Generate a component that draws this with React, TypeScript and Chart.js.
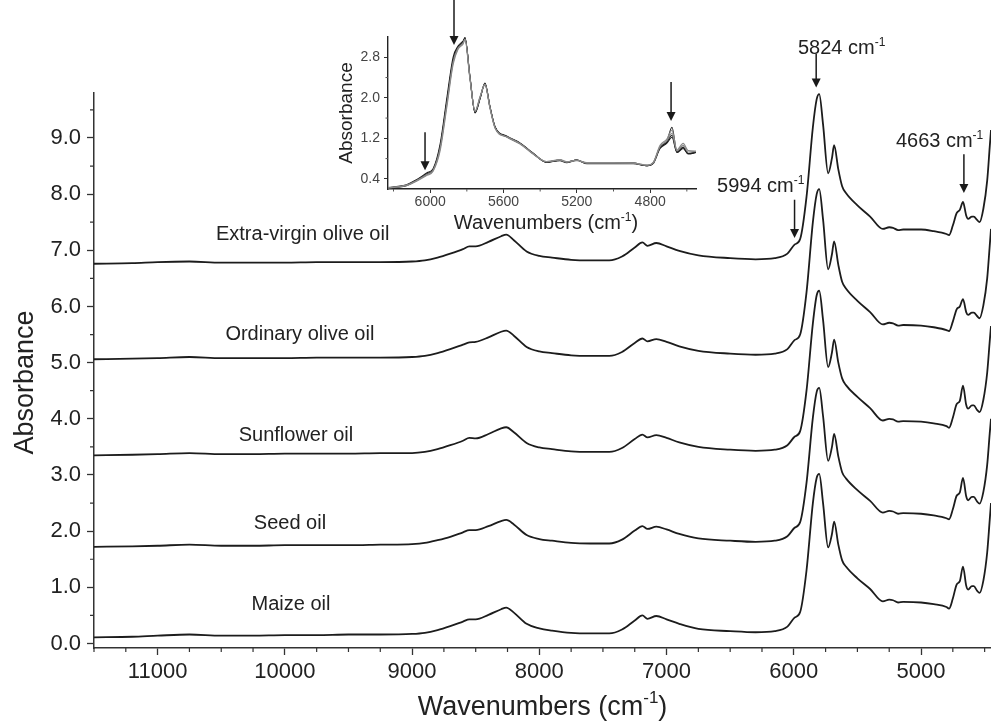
import React, { useEffect, useRef } from "react";
import { Chart, registerables } from "chart.js";

Chart.register(...registerables);

const FONT = "'Liberation Sans', Arial, Helvetica, sans-serif";

// ---------------- main spectra data ----------------
const WAVENUMBERS = [
  11500, 11200, 11000, 10750, 10500, 10250, 10000, 9750, 9500, 9250, 9000, 8900, 8800, 8700, 8600, 8550, 8500,
  8400, 8300, 8260, 8200, 8100, 8000, 7900, 7750, 7600, 7450, 7350, 7250, 7190, 7150, 7080, 7000, 6900, 6750,
  6500, 6300, 6150, 6050, 5994, 5950, 5900, 5850, 5820, 5800, 5770, 5730, 5700, 5683, 5650, 5620, 5590, 5500,
  5400, 5300, 5250, 5220, 5180, 5140, 5000, 4900, 4800, 4780, 4750, 4720, 4695, 4670, 4645, 4630, 4600, 4585,
  4560, 4540, 4510, 4480, 4460, 4450,
];

const EXTRA_VIRGIN = [
  6.76, 6.77, 6.79, 6.8, 6.78, 6.78, 6.78, 6.79, 6.79, 6.79, 6.8, 6.82, 6.87, 6.94, 7.02, 7.07, 7.07,
  7.15, 7.25, 7.28, 7.18, 6.98, 6.9, 6.87, 6.83, 6.82, 6.82, 6.89, 7.05, 7.14, 7.08, 7.13, 7.07, 6.99, 6.91,
  6.86, 6.84, 6.86, 6.94, 7.1, 7.2, 7.95, 9.19, 9.69, 9.78, 9.24, 8.37, 8.64, 8.87, 8.44, 8.14, 8.02, 7.8,
  7.6, 7.38, 7.41, 7.4, 7.36, 7.37, 7.37, 7.34, 7.29, 7.27, 7.44, 7.66, 7.72, 7.86, 7.62, 7.56, 7.6, 7.6,
  7.54, 7.5, 7.74, 8.24, 8.84, 9.14,
];

const ORDINARY = [
  5.06, 5.07, 5.08, 5.1, 5.08, 5.08, 5.08, 5.09, 5.09, 5.09, 5.1, 5.12, 5.17, 5.24, 5.32, 5.36, 5.37,
  5.45, 5.55, 5.57, 5.48, 5.28, 5.2, 5.17, 5.13, 5.12, 5.12, 5.19, 5.35, 5.43, 5.38, 5.42, 5.37, 5.29, 5.21,
  5.16, 5.14, 5.16, 5.24, 5.4, 5.5, 6.25, 7.5, 8.0, 8.09, 7.55, 6.66, 6.93, 7.16, 6.74, 6.44, 6.32, 6.1,
  5.9, 5.68, 5.71, 5.7, 5.66, 5.67, 5.66, 5.63, 5.58, 5.56, 5.73, 5.95, 6.0, 6.13, 5.9, 5.85, 5.89, 5.89,
  5.83, 5.79, 6.02, 6.5, 7.08, 7.38,
];

const SUNFLOWER = [
  3.35, 3.36, 3.37, 3.39, 3.37, 3.37, 3.38, 3.38, 3.38, 3.39, 3.39, 3.41, 3.46, 3.53, 3.61, 3.66, 3.65,
  3.73, 3.83, 3.85, 3.76, 3.57, 3.49, 3.46, 3.42, 3.41, 3.41, 3.48, 3.64, 3.72, 3.67, 3.71, 3.66, 3.58, 3.5,
  3.45, 3.43, 3.45, 3.53, 3.68, 3.78, 4.5, 5.7, 6.2, 6.28, 5.76, 4.92, 5.18, 5.41, 5.0, 4.72, 4.6, 4.39,
  4.19, 3.97, 4.0, 3.99, 3.95, 3.96, 3.95, 3.92, 3.87, 3.84, 4.02, 4.26, 4.32, 4.59, 4.25, 4.18, 4.24, 4.24,
  4.16, 4.12, 4.34, 4.82, 5.38, 5.65,
];

const SEED = [
  1.72, 1.73, 1.74, 1.76, 1.74, 1.74, 1.75, 1.75, 1.75, 1.76, 1.77, 1.79, 1.84, 1.9, 1.98, 2.02, 2.02,
  2.09, 2.18, 2.2, 2.12, 1.93, 1.86, 1.83, 1.79, 1.78, 1.78, 1.85, 2.01, 2.09, 2.04, 2.08, 2.03, 1.95, 1.87,
  1.83, 1.81, 1.83, 1.91, 2.06, 2.16, 2.86, 4.02, 4.48, 4.55, 4.05, 3.25, 3.5, 3.73, 3.33, 3.05, 2.94, 2.73,
  2.54, 2.33, 2.36, 2.35, 2.31, 2.32, 2.31, 2.28, 2.23, 2.21, 2.39, 2.63, 2.69, 2.95, 2.62, 2.55, 2.61, 2.61,
  2.53, 2.49, 2.7, 3.18, 3.74, 4.0,
];

const MAIZE = [
  0.11, 0.12, 0.14, 0.16, 0.14, 0.14, 0.15, 0.15, 0.16, 0.16, 0.17, 0.19, 0.24, 0.31, 0.39, 0.43, 0.43,
  0.51, 0.61, 0.64, 0.55, 0.35, 0.27, 0.23, 0.19, 0.18, 0.18, 0.25, 0.41, 0.5, 0.44, 0.49, 0.43, 0.35, 0.26,
  0.22, 0.2, 0.22, 0.3, 0.46, 0.56, 1.3, 2.5, 2.95, 3.02, 2.5, 1.71, 1.95, 2.17, 1.76, 1.48, 1.37, 1.16,
  0.97, 0.75, 0.78, 0.77, 0.73, 0.74, 0.73, 0.7, 0.65, 0.62, 0.8, 1.05, 1.11, 1.37, 1.03, 0.96, 1.02, 1.02,
  0.94, 0.9, 1.12, 1.62, 2.2, 2.5,
];

const SERIES_NAMES = ["Extra-virgin olive oil", "Ordinary olive oil", "Sunflower oil", "Seed oil", "Maize oil"];
const SERIES_VALUES = [EXTRA_VIRGIN, ORDINARY, SUNFLOWER, SEED, MAIZE];

const X_TICKS = [11000, 10000, 9000, 8000, 7000, 6000, 5000];
const X_MINOR = [11500, 11250, 10750, 10500, 10250, 9750, 9500, 9250, 8750, 8500, 8250, 7750, 7500, 7250, 6750, 6500, 6250, 5750, 5500, 5250, 4750, 4500];
const Y_TICKS = [0, 1, 2, 3, 4, 5, 6, 7, 8, 9];
const Y_MINOR = [0.5, 1.5, 2.5, 3.5, 4.5, 5.5, 6.5, 7.5, 8.5, 9.5];

// peak annotations (wavenumbers)
const PEAKS = [5824, 5994, 4663];

// ---------------- inset data ----------------
const INSET_WAVENUMBERS = [
  6230, 6126, 6072, 6017, 5984, 5946, 5908, 5875, 5848, 5821, 5810, 5783, 5755, 5728, 5701, 5674, 5646, 5581,
  5510, 5439, 5365, 5292, 5256, 5200, 5145, 5000, 4893, 4817, 4784, 4746, 4710, 4681, 4654, 4620, 4593, 4550,
];
const INSET_1 = [0.22, 0.28, 0.38, 0.5, 0.58, 1.03, 1.95, 2.74, 3.0, 3.1, 3.19, 2.4, 1.72, 2.0, 2.28, 1.82, 1.42, 1.23, 1.1, 0.9, 0.73, 0.77, 0.73, 0.77, 0.71, 0.71, 0.71, 0.66, 0.71, 1.03, 1.13, 1.42, 0.93, 1.03, 0.9, 0.93];
const INSET_2 = [0.22, 0.27, 0.36, 0.47, 0.55, 0.95, 1.85, 2.66, 2.96, 3.06, 3.15, 2.38, 1.74, 2.02, 2.26, 1.8, 1.4, 1.22, 1.09, 0.89, 0.74, 0.78, 0.74, 0.76, 0.72, 0.72, 0.71, 0.67, 0.72, 1.06, 1.18, 1.36, 0.97, 1.1, 0.96, 0.95];
const INSET_3 = [0.23, 0.29, 0.39, 0.52, 0.6, 1.08, 2.02, 2.8, 3.02, 3.12, 3.17, 2.42, 1.7, 1.98, 2.29, 1.83, 1.43, 1.24, 1.11, 0.91, 0.73, 0.76, 0.72, 0.77, 0.7, 0.7, 0.7, 0.66, 0.7, 1.0, 1.1, 1.22, 0.92, 1.0, 0.89, 0.92];
const INSET_4 = [0.22, 0.28, 0.37, 0.49, 0.57, 1.0, 1.9, 2.7, 2.98, 3.08, 3.16, 2.39, 1.73, 2.01, 2.27, 1.81, 1.41, 1.23, 1.1, 0.9, 0.74, 0.77, 0.73, 0.77, 0.71, 0.71, 0.71, 0.67, 0.71, 1.04, 1.15, 1.3, 0.95, 1.06, 0.93, 0.94];
const INSET_5 = [0.21, 0.27, 0.37, 0.49, 0.57, 1.01, 1.93, 2.72, 2.99, 3.09, 3.18, 2.41, 1.71, 1.99, 2.27, 1.82, 1.42, 1.23, 1.1, 0.9, 0.73, 0.77, 0.73, 0.77, 0.71, 0.71, 0.71, 0.66, 0.71, 1.02, 1.12, 1.26, 0.93, 1.02, 0.9, 0.92];
const INSET_SERIES = [INSET_2, INSET_4, INSET_1, INSET_3, INSET_5];
const INSET_SERIES_GREY = [true, true, false, false, false];

const INSET_X_TICKS = [6000, 5600, 5200, 4800];
const INSET_X_MINOR = [6200, 5800, 5400, 5000, 4600];
const INSET_Y_TICKS = [0.4, 1.2, 2.0, 2.8];
const INSET_Y_MINOR = [0.8, 1.6, 2.4];

// ---------------- layout / styling (not data) ----------------
const SERIES_LABEL_AT = [
  { x: 9860, y: 7.31 },
  { x: 9882, y: 5.53 },
  { x: 9913, y: 3.73 },
  { x: 9960, y: 2.16 },
  { x: 9952, y: 0.72 },
];
const MAIN_ARROWS = [
  { x: PEAKS[0], from: 10.5, to: 9.9 },
  { x: PEAKS[1], from: 7.9, to: 7.22 },
  { x: PEAKS[2], from: 8.71, to: 8.02 },
];
const MAIN_PEAK_LABELS = [
  { x: 5624, y: 10.62, text: `${PEAKS[0]} cm` },
  { x: 6260, y: 8.16, text: `${PEAKS[1]} cm` },
  { x: 4854, y: 8.96, text: `${PEAKS[2]} cm` },
];
const INSET_ARROWS = [
  { x: 6028, from: 1.32, to: 0.57 },
  { x: 5870, from: 3.95, to: 3.04 },
  { x: 4686, from: 2.31, to: 1.54 },
];

type Part = { t: string; sup?: boolean };

function drawParts(ctx: CanvasRenderingContext2D, parts: Part[], cx: number, cy: number, size: number, color: string, rotate = false) {
  const supSize = Math.round(size * 0.62);
  ctx.save();
  ctx.translate(cx, cy);
  if (rotate) ctx.rotate(-Math.PI / 2);
  const widths = parts.map((p) => {
    ctx.font = `${p.sup ? supSize : size}px ${FONT}`;
    return ctx.measureText(p.t).width;
  });
  const total = widths.reduce((a, b) => a + b, 0);
  let xx = -total / 2;
  ctx.fillStyle = color;
  ctx.textAlign = "left";
  ctx.textBaseline = "alphabetic";
  const base = size * 0.36;
  parts.forEach((p, i) => {
    ctx.font = `${p.sup ? supSize : size}px ${FONT}`;
    ctx.fillText(p.t, xx, p.sup ? base - size * 0.42 : base);
    xx += widths[i];
  });
  ctx.restore();
}

function drawArrow(ctx: CanvasRenderingContext2D, x: number, y1: number, y2: number, color: string, lw: number, head: number) {
  ctx.save();
  ctx.strokeStyle = color;
  ctx.fillStyle = color;
  ctx.lineWidth = lw;
  ctx.beginPath();
  ctx.moveTo(x, y1);
  ctx.lineTo(x, y2 - head + 1);
  ctx.stroke();
  ctx.beginPath();
  ctx.moveTo(x - head / 2, y2 - head);
  ctx.lineTo(x + head / 2, y2 - head);
  ctx.lineTo(x, y2);
  ctx.closePath();
  ctx.fill();
  ctx.restore();
}

function makeMinorTicks(xs: number[], ys: number[], len: number, color: string, width: number) {
  return {
    id: "minorTicks",
    afterDraw(chart: any) {
      const { ctx, chartArea, scales } = chart;
      ctx.save();
      ctx.strokeStyle = color;
      ctx.lineWidth = width;
      ctx.beginPath();
      xs.forEach((v) => {
        const px = scales.x.getPixelForValue(v);
        ctx.moveTo(px, chartArea.bottom);
        ctx.lineTo(px, chartArea.bottom + len);
      });
      ys.forEach((v) => {
        const py = scales.y.getPixelForValue(v);
        ctx.moveTo(chartArea.left, py);
        ctx.lineTo(chartArea.left - len, py);
      });
      ctx.stroke();
      ctx.restore();
    },
  };
}

const mainNotes = {
  id: "mainNotes",
  afterDraw(chart: any) {
    const { ctx, scales, chartArea } = chart;
    const { x, y } = scales;
    MAIN_ARROWS.forEach((a) =>
      drawArrow(ctx, x.getPixelForValue(a.x), y.getPixelForValue(a.from), y.getPixelForValue(a.to), "#1a1a1a", 1.5, 9)
    );
    MAIN_PEAK_LABELS.forEach((l) =>
      drawParts(ctx, [{ t: l.text }, { t: "-1", sup: true }], x.getPixelForValue(l.x), y.getPixelForValue(l.y), 20, "#222")
    );
    SERIES_NAMES.forEach((name, i) =>
      drawParts(ctx, [{ t: name }], x.getPixelForValue(SERIES_LABEL_AT[i].x), y.getPixelForValue(SERIES_LABEL_AT[i].y), 20, "#222")
    );
    // axis titles
    drawParts(ctx, [{ t: "Absorbance" }], 23, (chartArea.top + chartArea.bottom) / 2 + 12, 27, "#222", true);
    drawParts(ctx, [{ t: "Wavenumbers (cm" }, { t: "-1", sup: true }, { t: ")" }], (chartArea.left + chartArea.right) / 2, 705, 27, "#222");
  },
};

const insetNotes = {
  id: "insetNotes",
  afterDraw(chart: any) {
    const { ctx, scales, chartArea } = chart;
    const { x, y } = scales;
    INSET_ARROWS.forEach((a) =>
      drawArrow(ctx, x.getPixelForValue(a.x), y.getPixelForValue(a.from), y.getPixelForValue(a.to), "#1a1a1a", 1.5, 9)
    );
    drawParts(ctx, [{ t: "Absorbance" }], 75, (chartArea.top + chartArea.bottom) / 2, 19, "#222", true);
    drawParts(ctx, [{ t: "Wavenumbers (cm" }, { t: "-1", sup: true }, { t: ")" }], 276, 222, 20, "#222");
  },
};

function mainConfig(): any {
  return {
    type: "line",
    data: {
      datasets: SERIES_VALUES.map((vals, i) => ({
        label: SERIES_NAMES[i],
        data: WAVENUMBERS.map((w, j) => ({ x: w, y: vals[j] })),
        borderColor: "#1c1c1c",
        borderWidth: 1.8,
        pointRadius: 0,
        cubicInterpolationMode: "monotone",
        fill: false,
      })),
    },
    options: {
      animation: false,
      responsive: false,
      devicePixelRatio: 1,
      layout: { padding: { top: 93, right: 0, left: 0, bottom: 0 } },
      plugins: { legend: { display: false }, tooltip: { enabled: false } },
      scales: {
        x: {
          type: "linear",
          reverse: true,
          min: 4450,
          max: 11500,
          afterBuildTicks: (s: any) => {
            s.ticks = X_TICKS.map((v) => ({ value: v }));
          },
          afterFit: (s: any) => {
            s.height = 79;
          },
          grid: { drawOnChartArea: false, drawTicks: true, tickLength: 7, tickColor: "#333", tickWidth: 1.3 },
          border: { display: true, color: "#333", width: 1.5 },
          ticks: {
            autoSkip: false,
            maxRotation: 0,
            padding: 4,
            color: "#222",
            font: { family: FONT, size: 22 },
            callback: (v: any) => String(v),
          },
        },
        y: {
          type: "linear",
          min: -0.08,
          max: 9.8,
          afterBuildTicks: (s: any) => {
            s.ticks = Y_TICKS.map((v) => ({ value: v }));
          },
          afterFit: (s: any) => {
            s.width = 94;
          },
          grid: { drawOnChartArea: false, drawTicks: true, tickLength: 7, tickColor: "#333", tickWidth: 1.3 },
          border: { display: true, color: "#333", width: 1.5 },
          ticks: {
            autoSkip: false,
            padding: 6,
            color: "#222",
            font: { family: FONT, size: 22 },
            callback: (v: any) => Number(v).toFixed(1),
          },
        },
      },
    },
    plugins: [makeMinorTicks(X_MINOR, Y_MINOR, 4, "#333", 1.2), mainNotes],
  };
}

function insetConfig(): any {
  return {
    type: "line",
    data: {
      datasets: INSET_SERIES.map((vals, i) => ({
        data: INSET_WAVENUMBERS.map((w, j) => ({ x: w, y: vals[j] })),
        borderColor: INSET_SERIES_GREY[i] ? "#8a8a8a" : "#1e1e1e",
        borderWidth: INSET_SERIES_GREY[i] ? 1.2 : 1.1,
        pointRadius: 0,
        cubicInterpolationMode: "monotone",
        fill: false,
      })),
    },
    options: {
      animation: false,
      responsive: false,
      devicePixelRatio: 1,
      layout: { padding: { top: 37, right: 24, left: 0, bottom: 0 } },
      plugins: { legend: { display: false }, tooltip: { enabled: false } },
      scales: {
        x: {
          type: "linear",
          reverse: true,
          min: 4550,
          max: 6230,
          afterBuildTicks: (s: any) => {
            s.ticks = INSET_X_TICKS.map((v) => ({ value: v }));
          },
          afterFit: (s: any) => {
            s.height = 51;
          },
          grid: { drawOnChartArea: false, drawTicks: true, tickLength: 4, tickColor: "#333", tickWidth: 1 },
          border: { display: true, color: "#222", width: 1.4 },
          ticks: {
            autoSkip: false,
            maxRotation: 0,
            padding: 1,
            color: "#444",
            font: { family: FONT, size: 14 },
            callback: (v: any) => String(v),
          },
        },
        y: {
          type: "linear",
          min: 0.2,
          max: 3.2,
          afterBuildTicks: (s: any) => {
            s.ticks = INSET_Y_TICKS.map((v) => ({ value: v }));
          },
          afterFit: (s: any) => {
            s.width = 118;
          },
          grid: { drawOnChartArea: false, drawTicks: true, tickLength: 4, tickColor: "#333", tickWidth: 1 },
          border: { display: true, color: "#222", width: 1.4 },
          ticks: {
            autoSkip: false,
            padding: 4,
            color: "#444",
            font: { family: FONT, size: 14 },
            callback: (v: any) => Number(v).toFixed(1),
          },
        },
      },
    },
    plugins: [makeMinorTicks(INSET_X_MINOR, INSET_Y_MINOR, 2.5, "#555", 1), insetNotes],
  };
}

export default function App() {
  const mainRef = useRef<HTMLCanvasElement>(null);
  const insetRef = useRef<HTMLCanvasElement>(null);

  useEffect(() => {
    const main = new Chart(mainRef.current as HTMLCanvasElement, mainConfig());
    const inset = new Chart(insetRef.current as HTMLCanvasElement, insetConfig());
    return () => {
      main.destroy();
      inset.destroy();
    };
  }, []);

  return (
    <div style={{ position: "absolute", left: 0, top: 0, width: 991, height: 727, background: "#fff", overflow: "hidden" }}>
      <canvas
        ref={mainRef}
        width={991}
        height={727}
        style={{ position: "absolute", left: 0, top: 0, width: 991, height: 727 }}
      />
      <canvas
        ref={insetRef}
        width={450}
        height={240}
        style={{ position: "absolute", left: 270, top: 0, width: 450, height: 240 }}
      />
    </div>
  );
}
